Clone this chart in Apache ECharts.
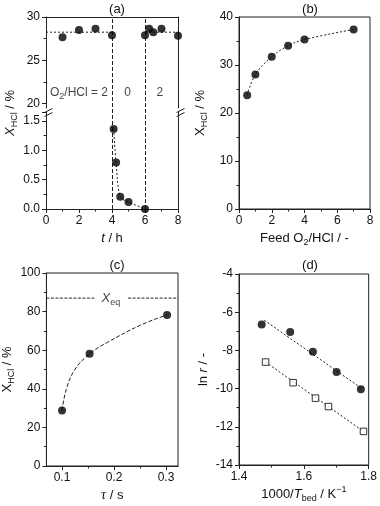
<!DOCTYPE html>
<html>
<head>
<meta charset="utf-8">
<script src="https://cdn.jsdelivr.net/npm/echarts@6/dist/echarts.min.js"></script>
<style>html,body{margin:0;padding:0;background:#fff}#c{width:380px;height:506px}</style>
</head>
<body>
<div id="c"></div>
<script>
// ---------- data ----------
// (a) time on stream
const aUpperT = [1, 2, 3, 4, 6, 6.25, 6.5, 7, 8];
const aUpperX = [27.65, 28.5, 28.65, 27.9, 27.9, 28.65, 28.25, 28.65, 27.85];
const aLowerT = [4.1, 4.25, 4.5, 5, 6];
const aLowerX = [1.36, 0.79, 0.21, 0.12, 0.0];
const aBaseline = 28.25;
const aSwitchTimes = [4, 6];
const aUpperTicks = [20, 25, 30];
const aUpperMinor = [22.5, 27.5];
const aNoteT = [2.0, 4.95, 6.9];
const aNoteY = [21.3, 21.3, 21.3];
const aNoteText = ['{n|O}{s|2}{n|/HCl = 2}', '{n|0}', '{n|2}'];
// (b) feed ratio
const bRatio = [0.5, 1, 2, 3, 4, 7];
const bX = [23.7, 28.0, 31.7, 34.0, 35.3, 37.4];
// (c) residence time
const cTau = [0.1, 0.153, 0.302];
const cX = [28.8, 58.1, 78.3];
const cFitTau = [0.1, 0.108, 0.124, 0.153, 0.187, 0.251, 0.302];
const cFitX = [28.8, 39.5, 49.7, 58.1, 64.0, 73.0, 78.3];
const cEq = 87.0;
const cEqSegLeft = [0.07, 0.162];
const cEqSegRight = [0.227, 0.323];
const cEqLabelTau = 0.194;
const cTicks = [0.1, 0.2, 0.3];
const cMinor = [0.15, 0.25];
// (d) Arrhenius
const dInvT1 = [1.470, 1.558, 1.628, 1.701, 1.776];
const dLnR1 = [-6.64, -7.04, -8.07, -9.13, -10.03];
const dInvT2 = [1.482, 1.567, 1.636, 1.676, 1.784];
const dLnR2 = [-8.61, -9.69, -10.50, -10.94, -12.24];
const dFit1X = [1.478, 1.779];
const dFit1Y = [-6.42, -10.0];
const dFit2X = [1.482, 1.784];
const dFit2Y = [-8.61, -12.24];
const titles = ['(a)', '(b)', '(c)', '(d)'];

// ---------- styles ----------
const FONT = '"Liberation Sans", Arial, Helvetica, sans-serif';
const SERIF = '"Liberation Serif", "Times New Roman", serif';
const INK = '#111';
const AX = '#222';
const mkRich = (fs) => ({
  n: {fontSize: fs, fontFamily: FONT, color: INK, lineHeight: 18},
  i: {fontSize: fs, fontFamily: FONT, fontStyle: 'italic', color: INK, lineHeight: 18},
  g: {fontSize: fs + 1, fontFamily: SERIF, fontStyle: 'italic', color: INK, lineHeight: 18},
  s: {fontSize: 9, fontFamily: FONT, color: INK, lineHeight: 9, verticalAlign: 'bottom'},
  sup: {fontSize: 9, fontFamily: FONT, color: INK, lineHeight: 9, verticalAlign: 'top'}
});
const rich = mkRich(13);
const noteRich = mkRich(12);
const nameStyle = {fontFamily: FONT, fontSize: 13, color: INK, rich: rich};
const labelStyle = {color: INK, fontSize: 12, fontFamily: FONT, margin: 6};
const lineAx = {show: true, lineStyle: {color: AX, width: 1}};
const tickMaj = {show: true, length: 4, lineStyle: {color: AX, width: 1}};
const tickMin = {show: true, length: 2.5, splitNumber: 2, lineStyle: {color: AX, width: 1}};
const noSplit = {show: false};
const zip = (a, b) => a.map((v, k) => [v, b[k]]);

const dot = (xi, yi, xs, ys) => ({
  type: 'scatter', xAxisIndex: xi, yAxisIndex: yi, data: zip(xs, ys),
  symbol: 'circle', symbolSize: 8, itemStyle: {color: '#000'}, z: 5
});
const curve = (xi, yi, xs, ys, dash, smooth) => ({
  type: 'line', xAxisIndex: xi, yAxisIndex: yi, data: zip(xs, ys),
  symbol: 'none', smooth: smooth, lineStyle: {color: '#222', width: 1, type: dash}, z: 3
});

const option = {
  animation: false,
  backgroundColor: '#fff',
  title: titles.map((t, k) => ({
    text: t, left: k % 2 === 0 ? 112 : 305, top: k < 2 ? -2 : 254, textAlign: 'center',
    textStyle: {fontFamily: FONT, fontSize: 13, fontWeight: 'normal', color: INK}
  })),
  grid: [
    {left: 46, top: 17, width: 132, height: 91},
    {left: 46, top: 112, width: 132, height: 97},
    {left: 239, top: 17, width: 131, height: 192, show: true, borderColor: AX, borderWidth: 1},
    {left: 45, top: 273, width: 133, height: 193, show: true, borderColor: AX, borderWidth: 1},
    {left: 239, top: 274, width: 131, height: 191, show: true, borderColor: AX, borderWidth: 1},
    {left: 46, top: 17, width: 132, height: 192}
  ],
  xAxis: [
    {gridIndex: 0, type: 'value', position: 'top', min: 0, max: 8, axisLine: lineAx,
     axisTick: {show: false}, axisLabel: {show: false}, splitLine: noSplit},
    {gridIndex: 1, type: 'value', position: 'bottom', min: 0, max: 8, interval: 2,
     axisLine: lineAx, axisTick: tickMaj, minorTick: tickMin, axisLabel: labelStyle, splitLine: noSplit,
     name: '{i|t}{n| / h}', nameLocation: 'middle', nameGap: 20, nameTextStyle: nameStyle},
    {gridIndex: 2, type: 'value', min: 0, max: 8, interval: 2,
     axisLine: lineAx, axisTick: tickMaj, minorTick: tickMin, axisLabel: labelStyle, splitLine: noSplit,
     name: '{n|Feed O}{s|2}{n|/HCl / -}', nameLocation: 'middle', nameGap: 20, nameTextStyle: nameStyle},
    {gridIndex: 3, type: 'value', position: 'bottom', min: 0.07, max: 0.323,
     axisLine: lineAx, axisTick: Object.assign({}, tickMaj, {customValues: cTicks}),
     axisLabel: Object.assign({}, labelStyle, {customValues: cTicks, formatter: v => v.toFixed(1)}),
     splitLine: noSplit,
     name: '{g|τ}{n| / s}', nameLocation: 'middle', nameGap: 20, nameTextStyle: nameStyle},
    {gridIndex: 3, type: 'value', position: 'bottom', min: 0.07, max: 0.323,
     axisLine: {show: false}, axisTick: {show: true, length: 2.5, customValues: cMinor, lineStyle: {color: AX}},
     axisLabel: {show: false}, splitLine: noSplit},
    {gridIndex: 4, type: 'value', min: 1.4, max: 1.8, interval: 0.2,
     axisLine: lineAx, axisTick: tickMaj, minorTick: tickMin,
     axisLabel: Object.assign({}, labelStyle, {formatter: v => v.toFixed(1)}), splitLine: noSplit,
     name: '{n|1000/}{i|T}{s|bed}{n| / K}{sup|−1}', nameLocation: 'middle', nameGap: 20, nameTextStyle: nameStyle},
    {gridIndex: 5, type: 'value', show: false, min: 0, max: 8}
  ],
  yAxis: [
    {gridIndex: 0, type: 'value', position: 'left', min: 19.5, max: 30,
     axisLine: lineAx, axisTick: Object.assign({}, tickMaj, {customValues: aUpperTicks}),
     axisLabel: Object.assign({}, labelStyle, {customValues: aUpperTicks}), splitLine: noSplit},
    {gridIndex: 0, type: 'value', position: 'left', min: 19.5, max: 30,
     axisLine: {show: false}, axisTick: {show: true, length: 2.5, customValues: aUpperMinor, lineStyle: {color: AX}},
     axisLabel: {show: false}, splitLine: noSplit},
    {gridIndex: 0, type: 'value', position: 'right', min: 19.5, max: 30,
     axisLine: lineAx, axisTick: {show: false}, axisLabel: {show: false}, splitLine: noSplit},
    {gridIndex: 1, type: 'value', position: 'left', min: 0, max: 1.65, interval: 0.5,
     axisLine: lineAx, axisTick: tickMaj, minorTick: tickMin,
     axisLabel: Object.assign({}, labelStyle, {formatter: v => v.toFixed(1)}), splitLine: noSplit},
    {gridIndex: 1, type: 'value', position: 'right', min: 0, max: 1.65,
     axisLine: lineAx, axisTick: {show: false}, axisLabel: {show: false}, splitLine: noSplit},
    {gridIndex: 2, type: 'value', min: 0, max: 40, interval: 10,
     axisLine: lineAx, axisTick: tickMaj, minorTick: tickMin, axisLabel: labelStyle, splitLine: noSplit,
     name: '{n|X}{s|HCl}{n| / %}', nameLocation: 'middle', nameGap: 30, nameRotate: 90, nameTextStyle: nameStyle},
    {gridIndex: 3, type: 'value', min: 0, max: 100, interval: 20,
     axisLine: lineAx, axisTick: tickMaj, minorTick: tickMin, axisLabel: labelStyle, splitLine: noSplit,
     name: '{n|X}{s|HCl}{n| / %}', nameLocation: 'middle', nameGap: 26, nameRotate: 90, nameTextStyle: nameStyle},
    {gridIndex: 4, type: 'value', min: -14, max: -4, interval: 2,
     axisLine: lineAx, axisTick: tickMaj, minorTick: tickMin, axisLabel: labelStyle, splitLine: noSplit,
     name: '{n|ln }{i|r}{n| / -}', nameLocation: 'middle', nameGap: 27, nameRotate: 90, nameTextStyle: nameStyle},
    {gridIndex: 5, type: 'value', min: 0, max: 1,
     axisLine: {show: false}, axisTick: {show: false}, axisLabel: {show: false}, splitLine: noSplit,
     name: '{i|X}{s|HCl}{n| / %}', nameLocation: 'middle', nameGap: 27, nameRotate: 90, nameTextStyle: nameStyle}
  ],
  series: [
    // (a)
    {type: 'scatter', xAxisIndex: 6, yAxisIndex: 8, data: [], silent: true,
     markLine: {silent: true, symbol: 'none', label: {show: false},
       lineStyle: {color: '#222', width: 1, type: [4, 2]},
       data: aSwitchTimes.map(t => ({xAxis: t}))}},
    dot(0, 0, aUpperT, aUpperX),
    curve(0, 0, [0, aSwitchTimes[0]], [aBaseline, aBaseline], [2, 2], false),
    curve(0, 0, [aSwitchTimes[1], 8], [aBaseline, aBaseline], [2, 2], false),
    dot(1, 3, aLowerT, aLowerX),
    curve(1, 3, aLowerT, aLowerX, [2, 2], 0.35),
    {type: 'scatter', xAxisIndex: 0, yAxisIndex: 0, symbolSize: 0, silent: true,
     data: aNoteT.map((t, k) => ({value: [t, aNoteY[k]], label: {formatter: aNoteText[k]}})),
     label: {show: true, position: 'inside', rich: noteRich, fontSize: 12, fontFamily: FONT, color: INK}},
    // (b)
    curve(2, 5, bRatio, bX, [2, 2], 0.4),
    dot(2, 5, bRatio, bX),
    // (c)
    curve(3, 6, cFitTau, cFitX, [4, 2], 0.4),
    dot(3, 6, cTau, cX),
    curve(3, 6, cEqSegLeft, [cEq, cEq], [3, 1.5], false),
    curve(3, 6, cEqSegRight, [cEq, cEq], [3, 1.5], false),
    {type: 'scatter', xAxisIndex: 3, yAxisIndex: 6, symbolSize: 0, silent: true,
     data: [{value: [cEqLabelTau, cEq], label: {formatter: '{i|X}{s|eq}'}}],
     label: {show: true, position: 'inside', rich: rich}},
    // (d)
    curve(5, 7, dFit1X, dFit1Y, [2, 2], false),
    curve(5, 7, dFit2X, dFit2Y, [2, 2], false),
    dot(5, 7, dInvT1, dLnR1),
    {type: 'scatter', xAxisIndex: 5, yAxisIndex: 7, data: zip(dInvT2, dLnR2),
     symbol: 'rect', symbolSize: 6.5, itemStyle: {color: '#fff', borderColor: '#000', borderWidth: 1}, z: 5}
  ],
  graphic: [
    // axis-break marks on panel (a)
    ...[46, 178].map(x => ({
      type: 'group', left: x - 4, top: 106, silent: true,
      children: [
        {type: 'line', shape: {x1: 0, y1: 4, x2: 8, y2: 0}, style: {stroke: AX, lineWidth: 1}},
        {type: 'line', shape: {x1: 0, y1: 8, x2: 8, y2: 4}, style: {stroke: AX, lineWidth: 1}}
      ]
    }))
  ]
};
const chart = echarts.init(document.getElementById('c'), null, {renderer: 'canvas'});
chart.setOption(option);
</script>
</body>
</html>
